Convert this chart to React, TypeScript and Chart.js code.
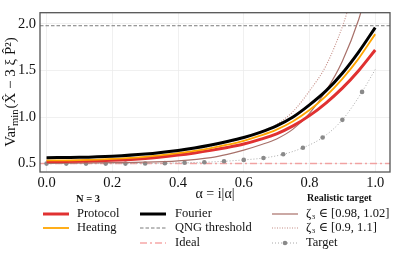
import React, { useEffect, useRef } from "react";
import { Chart, registerables } from "chart.js";

Chart.register(...registerables);

// ---------------- data ----------------
const xTickValues = [0, 0.2, 0.4, 0.6, 0.8, 1.0];
const yTickValues = [0.5, 1.0, 1.5, 2.0];

const alphaMain = [0, 0.1, 0.2, 0.3, 0.4, 0.45, 0.5, 0.55, 0.6, 0.65, 0.7, 0.75, 0.8, 0.85, 0.9, 0.95, 1.0];
const fourierValues = [0.564, 0.568, 0.58, 0.603, 0.642, 0.668, 0.7, 0.737, 0.78, 0.835, 0.905, 1.0, 1.13, 1.28, 1.47, 1.7, 1.96];
const heatingValues = [0.535, 0.538, 0.55, 0.572, 0.612, 0.637, 0.667, 0.703, 0.745, 0.8, 0.865, 0.955, 1.075, 1.225, 1.41, 1.63, 1.89];
const protocolValues = [0.522, 0.525, 0.535, 0.555, 0.592, 0.615, 0.642, 0.673, 0.71, 0.76, 0.82, 0.905, 1.015, 1.15, 1.31, 1.5, 1.72];

const alphaZetaNarrow = [0, 0.2, 0.3, 0.4, 0.5, 0.55, 0.6, 0.65, 0.7, 0.75, 0.8, 0.85, 0.9, 0.95, 0.97];
const zetaNarrowValues = [0.502, 0.51, 0.515, 0.53, 0.565, 0.6, 0.645, 0.7, 0.765, 0.87, 1.04, 1.28, 1.6, 2.05, 2.3];

const alphaZetaWide = [0, 0.2, 0.4, 0.5, 0.6, 0.65, 0.7, 0.75, 0.8, 0.85, 0.9, 0.93];
const zetaWideValues = [0.56, 0.58, 0.635, 0.69, 0.775, 0.84, 0.92, 1.06, 1.28, 1.55, 1.97, 2.3];

const alphaTarget = [0, 0.06, 0.12, 0.18, 0.24, 0.3, 0.36, 0.42, 0.48, 0.54, 0.6, 0.66, 0.72, 0.78, 0.84, 0.9, 0.96, 1.0];
const targetValues = [0.5, 0.5, 0.5, 0.5, 0.5, 0.502, 0.505, 0.51, 0.515, 0.525, 0.54, 0.56, 0.6, 0.67, 0.78, 0.97, 1.27, 1.51];
const targetMarked = [1, 1, 1, 1, 1, 1, 1, 1, 1, 1, 1, 1, 1, 1, 1, 1, 1, 0];

const qngThreshold = 1.98;
const idealValue = 0.5;
const xRange = [-0.02, 1.045];
const yRange = [0.41, 2.12];

const labelProtocol = "Protocol";
const labelHeating = "Heating";
const labelFourier = "Fourier";
const labelQNG = "QNG threshold";
const labelIdeal = "Ideal";
const labelZetaNarrow = "ζ₃ ∈ [0.98, 1.02]";
const labelZetaWide = "ζ₃ ∈ [0.9, 1.1]";
const labelTarget = "Target";
const headerN = "N = 3";
const headerRealistic = "Realistic target";
const xTitle = "α = i|α|";

// --------------------------------------
const SERIF = "'Liberation Serif', 'DejaVu Serif', serif";

const pts = (xs: number[], ys: number[]) => xs.map((x, i) => ({ x, y: ys[i] }));

const customPlugin = {
  id: "customDecor",
  afterDraw(chart: any) {
    const ctx = chart.ctx as CanvasRenderingContext2D;
    const area = chart.chartArea;
    // frame
    ctx.save();
    ctx.strokeStyle = "#555555";
    ctx.lineWidth = 1.3;
    ctx.strokeRect(area.left, area.top, area.right - area.left, area.bottom - area.top);
    ctx.restore();

    // x title
    ctx.save();
    ctx.fillStyle = "#111";
    ctx.font = `14px ${SERIF}`;
    ctx.textAlign = "center";
    ctx.textBaseline = "middle";
    ctx.fillText(xTitle, (area.left + area.right) / 2, 194);
    ctx.restore();

    // y title with subscript
    ctx.save();
    ctx.translate(11, 92);
    ctx.rotate(-Math.PI / 2);
    ctx.fillStyle = "#111";
    ctx.textBaseline = "middle";
    const mainFont = `15px ${SERIF}`;
    const subFont = `10.5px ${SERIF}`;
    const p1 = "Var";
    const p2 = "min";
    const p3 = "(X\u0302 − 3 ξ P\u0302²)";
    ctx.font = mainFont;
    const w1 = ctx.measureText(p1).width;
    const w3 = ctx.measureText(p3).width;
    ctx.font = subFont;
    const w2 = ctx.measureText(p2).width;
    const total = w1 + w2 + w3 + 1;
    let cx = -total / 2;
    ctx.font = mainFont;
    ctx.textAlign = "left";
    ctx.fillText(p1, cx, 0);
    cx += w1;
    ctx.font = subFont;
    ctx.fillText(p2, cx, 4);
    cx += w2 + 1;
    ctx.font = mainFont;
    ctx.fillText(p3, cx, 0);
    ctx.restore();

    // legend
    const ds = chart.data.datasets as any[];
    const find = (l: string) => ds.find((d) => d.label === l);
    const rows = [214, 228, 243];
    const cols = [
      { lineX: 43, textX: 77, items: [labelProtocol, labelHeating] },
      { lineX: 140, textX: 175, items: [labelFourier, labelQNG, labelIdeal] },
      { lineX: 272, textX: 306, items: [labelZetaNarrow, labelZetaWide, labelTarget] },
    ];
    const sampleLen = 26;
    cols.forEach((c) => {
      c.items.forEach((lab, i) => {
        const d = find(lab);
        const y = rows[i];
        ctx.save();
        ctx.strokeStyle = d.borderColor;
        ctx.lineWidth = d.borderWidth;
        ctx.setLineDash(d.borderDash || []);
        ctx.beginPath();
        ctx.moveTo(c.lineX, y);
        ctx.lineTo(c.lineX + sampleLen, y);
        ctx.stroke();
        ctx.setLineDash([]);
        if (lab === labelTarget) {
          ctx.fillStyle = "#8a8a8a";
          ctx.beginPath();
          ctx.arc(c.lineX + sampleLen / 2, y, 2.3, 0, Math.PI * 2);
          ctx.fill();
        }
        ctx.fillStyle = "#111";
        ctx.font = `12.5px ${SERIF}`;
        ctx.textAlign = "left";
        ctx.textBaseline = "middle";
        ctx.fillText(lab, c.textX, y);
        ctx.restore();
      });
    });
    ctx.save();
    ctx.fillStyle = "#111";
    ctx.textBaseline = "middle";
    ctx.font = `bold 10.5px ${SERIF}`;
    ctx.textAlign = "center";
    ctx.fillText(headerN, 88, 199);
    ctx.font = `bold 10px ${SERIF}`;
    ctx.textAlign = "left";
    ctx.fillText(headerRealistic, 307, 198);
    ctx.restore();
  },
};

export default function App() {
  const ref = useRef<HTMLCanvasElement | null>(null);

  useEffect(() => {
    if (!ref.current) return;
    const chart = new Chart(ref.current, {
      type: "line",
      data: {
        datasets: [
          {
            label: labelFourier,
            data: pts(alphaMain, fourierValues),
            borderColor: "#000000",
            borderWidth: 3,
            pointRadius: 0,
            cubicInterpolationMode: "monotone",
            order: 1,
          },
          {
            label: labelHeating,
            data: pts(alphaMain, heatingValues),
            borderColor: "#ffa500",
            borderWidth: 1.8,
            pointRadius: 0,
            cubicInterpolationMode: "monotone",
            order: 2,
          },
          {
            label: labelProtocol,
            data: pts(alphaMain, protocolValues),
            borderColor: "#e03131",
            borderWidth: 3,
            pointRadius: 0,
            cubicInterpolationMode: "monotone",
            order: 3,
          },
          {
            label: labelZetaNarrow,
            data: pts(alphaZetaNarrow, zetaNarrowValues),
            borderColor: "#a8716a",
            borderWidth: 1.2,
            pointRadius: 0,
            cubicInterpolationMode: "monotone",
            order: 4,
          },
          {
            label: labelZetaWide,
            data: pts(alphaZetaWide, zetaWideValues),
            borderColor: "#c48c84",
            borderWidth: 1.1,
            borderDash: [1, 1.5],
            pointRadius: 0,
            cubicInterpolationMode: "monotone",
            order: 5,
          },
          {
            label: labelTarget,
            data: pts(alphaTarget, targetValues),
            borderColor: "#a8a8a8",
            borderWidth: 1,
            borderDash: [1, 2],
            pointRadius: targetMarked.map((m) => (m ? 2.3 : 0)),
            pointBackgroundColor: "#8a8a8a",
            pointBorderWidth: 0,
            cubicInterpolationMode: "monotone",
            order: 6,
          },
          {
            label: labelQNG,
            data: [
              { x: xRange[0], y: qngThreshold },
              { x: xRange[1], y: qngThreshold },
            ],
            borderColor: "#7a7a7a",
            borderWidth: 1,
            borderDash: [3.5, 2],
            pointRadius: 0,
            order: 7,
          },
          {
            label: labelIdeal,
            data: [
              { x: xRange[0], y: idealValue },
              { x: xRange[1], y: idealValue },
            ],
            borderColor: "rgba(240,110,110,0.6)",
            borderWidth: 1.5,
            borderDash: [7, 3, 2, 3],
            pointRadius: 0,
            order: 8,
          },
        ],
      },
      options: {
        animation: false,
        responsive: false,
        maintainAspectRatio: false,
        layout: { padding: { left: 0, right: 6, top: 3, bottom: 0 } },
        plugins: {
          legend: { display: false },
          tooltip: { enabled: false },
        },
        scales: {
          x: {
            type: "linear",
            min: xRange[0],
            max: xRange[1],
            afterBuildTicks: (s: any) => {
              s.ticks = xTickValues.map((v) => ({ value: v }));
            },
            afterFit: (s: any) => {
              s.height = 84;
            },
            ticks: {
              callback: (v: any) => Number(v).toFixed(1),
              font: { family: SERIF, size: 14.5 },
              color: "#111",
              padding: 2,
              maxRotation: 0,
            },
            grid: { color: "#ececec", lineWidth: 0.8, drawTicks: false },
            border: { display: false },
          },
          y: {
            type: "linear",
            min: yRange[0],
            max: yRange[1],
            afterBuildTicks: (s: any) => {
              s.ticks = yTickValues.map((v) => ({ value: v }));
            },
            afterFit: (s: any) => {
              s.width = 40;
            },
            ticks: {
              callback: (v: any) => Number(v).toFixed(1),
              font: { family: SERIF, size: 14.5 },
              color: "#111",
              padding: 4,
            },
            grid: { color: "#ececec", lineWidth: 0.8, drawTicks: false },
            border: { display: false },
          },
        },
      },
      plugins: [customPlugin],
    } as any);
    return () => chart.destroy();
  }, []);

  return (
    <div style={{ position: "fixed", left: 0, top: 0, width: 396, height: 256, background: "#fff" }}>
      <canvas ref={ref} width={396} height={256} style={{ width: 396, height: 256, display: "block" }} />
    </div>
  );
}
